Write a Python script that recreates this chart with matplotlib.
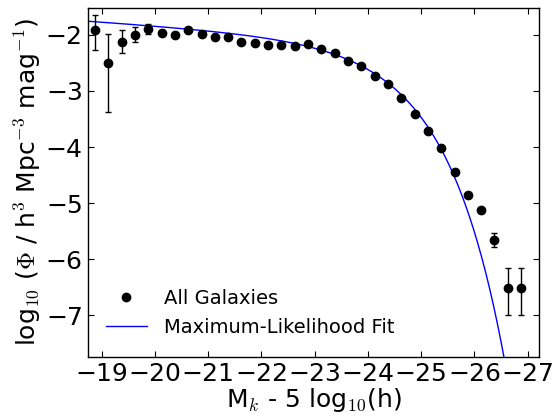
import numpy as np
import matplotlib
matplotlib.use("Agg")
import matplotlib.pyplot as plt

plt.rcParams['mathtext.fontset'] = 'cm'
plt.rcParams['mathtext.rm'] = 'serif'
plt.rcParams['font.family'] = ['DejaVu Sans']

# Absolute magnitude bin centres
mag = [-18.875, -19.125, -19.375, -19.625, -19.875, -20.125, -20.375, -20.625,
       -20.875, -21.125, -21.375, -21.625, -21.875, -22.125, -22.375, -22.625,
       -22.875, -23.125, -23.375, -23.625, -23.875, -24.125, -24.375, -24.625,
       -24.875, -25.125, -25.375, -25.625, -25.875, -26.125, -26.375, -26.625,
       -26.875]
# log10 Phi values
logphi = [-1.92, -2.50, -2.12, -2.00, -1.90, -1.96, -2.01, -1.91,
          -1.99, -2.04, -2.03, -2.12, -2.15, -2.18, -2.18, -2.19,
          -2.16, -2.25, -2.32, -2.46, -2.55, -2.73, -2.88, -3.12,
          -3.41, -3.71, -4.02, -4.45, -4.86, -5.13, -5.65, -6.52,
          -6.52]
err_lo = [0.35, 0.88, 0.21, 0.13, 0.08, 0.04, 0.03, 0.03,
          0.03, 0.02, 0.02, 0.02, 0.02, 0.02, 0.02, 0.02,
          0.02, 0.02, 0.02, 0.02, 0.02, 0.02, 0.02, 0.02,
          0.02, 0.02, 0.02, 0.03, 0.03, 0.05, 0.13, 0.47,
          0.47]
err_hi = [0.28, 0.51, 0.20, 0.15, 0.09, 0.04, 0.03, 0.03,
          0.03, 0.02, 0.02, 0.02, 0.02, 0.02, 0.02, 0.02,
          0.02, 0.02, 0.02, 0.02, 0.02, 0.02, 0.02, 0.02,
          0.02, 0.02, 0.02, 0.03, 0.03, 0.05, 0.12, 0.37,
          0.37]

# Schechter maximum-likelihood fit parameters
M_star = -23.8
alpha = -1.164
phi_star = 0.00897

xticks = [-19, -20, -21, -22, -23, -24, -25, -26, -27]
yticks = [-2, -3, -4, -5, -6, -7]

fig = plt.figure(figsize=(5.54, 4.19), dpi=100)
ax = fig.add_axes([0.1594, 0.1487, 0.8144, 0.8322])

Mfit = np.linspace(-18.5, -27.5, 600)
xx = 10 ** (0.4 * (M_star - Mfit))
phi = 0.4 * np.log(10) * phi_star * xx ** (alpha + 1) * np.exp(-xx)
fit_line, = ax.plot(Mfit, np.log10(phi), color='b', lw=1.0, zorder=2)

ax.errorbar(mag, logphi, yerr=[err_lo, err_hi], fmt='none',
            ecolor='k', elinewidth=1, capsize=2.5, capthick=1, zorder=3)
pts, = ax.plot(mag, logphi, 'o', color='k', ms=6, zorder=4)

ax.set_xlim(-18.75, -27.22)
ax.set_ylim(-7.74, -1.52)
ax.set_xticks(xticks)
ax.set_yticks(yticks)
ax.tick_params(direction='in', length=4, width=0.8, top=True, right=True,
               labelsize=18, pad=4)
ax.set_xticklabels([f"\u2212{abs(t)}" for t in xticks])
ax.set_yticklabels([f"\u2212{abs(t)}" for t in yticks])
for s in ax.spines.values():
    s.set_linewidth(1.0)

ax.set_xlabel(r'M$_k$ - 5 log$_{10}$(h)', fontsize=18, labelpad=0)
ax.set_ylabel(r'log$_{10}$ ($\Phi$ / h$^3$ Mpc$^{-3}$ mag$^{-1}$)', fontsize=18, labelpad=2)

ax.legend([pts, fit_line], ['All Galaxies', 'Maximum-Likelihood Fit'],
          loc='center left', bbox_to_anchor=(0.039, 0.125), frameon=False,
          numpoints=1, fontsize=14, borderpad=0, borderaxespad=0,
          handletextpad=0.9, handlelength=2.1, labelspacing=0.5)

fig.savefig('out.png', dpi=100)
